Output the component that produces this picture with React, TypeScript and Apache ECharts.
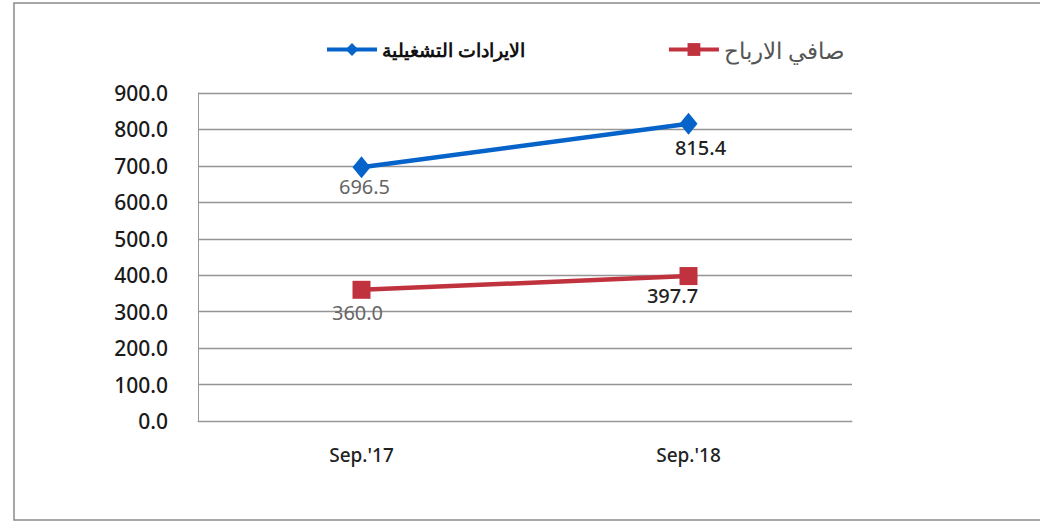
import React, { useEffect, useRef } from "react";
import * as echarts from "echarts";

const categories = ["Sep.'17", "Sep.'18"];
const revenueName = "الايرادات التشغيلية";
const profitName = "صافي الارباح";
const revenue = [696.5, 815.4];
const profit = [360.0, 397.7];

export default function App() {
  const ref = useRef<HTMLDivElement>(null);
  useEffect(() => {
    document.body.style.margin = "0";
    const chart = echarts.init(ref.current!, null, { renderer: "svg" });
    const font = "Noto Sans";
    const fmt = (p: any) => Number(p.value).toFixed(1);
    chart.setOption({
      animation: false,
      backgroundColor: "#ffffff",
      textStyle: { fontFamily: font },
      graphic: [
        {
          type: "rect",
          shape: { x: 14, y: 3, width: 1040, height: 517 },
          style: { fill: "none", stroke: "#8a8a8a", lineWidth: 1.5 },
          silent: true,
        },
      ],
      legend: {
        top: 33,
        left: 320,
        itemGap: 142,
        itemWidth: 50,
        itemHeight: 16,
        lineStyle: { width: 4 },
        textStyle: { fontSize: 19, color: "#222", fontFamily: font },
        data: [
          { name: revenueName, textStyle: { color: "#111", fontWeight: 600, fontSize: 19 } },
          { name: profitName, textStyle: { color: "#555", fontWeight: 400, fontSize: 23 } },
        ],
      },
      grid: { left: 198, right: 188, top: 93, bottom: 107 },
      xAxis: {
        type: "category",
        data: categories,
        boundaryGap: true,
        axisLine: { show: true, lineStyle: { color: "#999", width: 1 } },
        axisTick: { show: false },
        axisLabel: { fontSize: 19, color: "#222", margin: 24, fontFamily: font, fontWeight: 500 },
      },
      yAxis: {
        type: "value",
        min: 0,
        max: 900,
        interval: 100,
        axisLine: { show: true, lineStyle: { color: "#999", width: 1 } },
        axisTick: { show: false },
        splitLine: { lineStyle: { color: "#959595", width: 1.3 } },
        axisLabel: {
          fontSize: 21,
          color: "#1a1a1a",
          margin: 30,
          fontFamily: font,
          fontWeight: 500,
          formatter: (v: number) => v.toFixed(1),
        },
      },
      series: [
        {
          name: revenueName,
          type: "line",
          color: "#0563C9",
          lineStyle: { width: 4.5, color: "#0563C9" },
          symbol: "diamond",
          symbolSize: [18, 22],
          itemStyle: { color: "#0563C9" },
          label: {
            show: true,
            position: "bottom",
            distance: 4,
            fontSize: 20,
            fontFamily: font,
            formatter: fmt,
            color: "#666",
          },
          data: revenue.map((v, i) => ({
            value: v,
            label:
              i === 1
                ? { color: "#222", fontWeight: 500, offset: [12, -1] }
                : { offset: [3, -6] },
          })),
        },
        {
          name: profitName,
          type: "line",
          color: "#C0323D",
          lineStyle: { width: 4.5, color: "#C0323D" },
          symbol: "rect",
          symbolSize: 18,
          itemStyle: { color: "#C0323D" },
          label: {
            show: true,
            position: "bottom",
            distance: 4,
            fontSize: 20,
            fontFamily: font,
            formatter: fmt,
            color: "#666",
          },
          data: profit.map((v, i) => ({
            value: v,
            label:
              i === 1
                ? { color: "#222", fontWeight: 500, offset: [-16, -4] }
                : { offset: [-4, 0] },
          })),
        },
      ],
    });
    return () => chart.dispose();
  }, []);
  return <div ref={ref} style={{ width: 1040, height: 528 }} />;
}
